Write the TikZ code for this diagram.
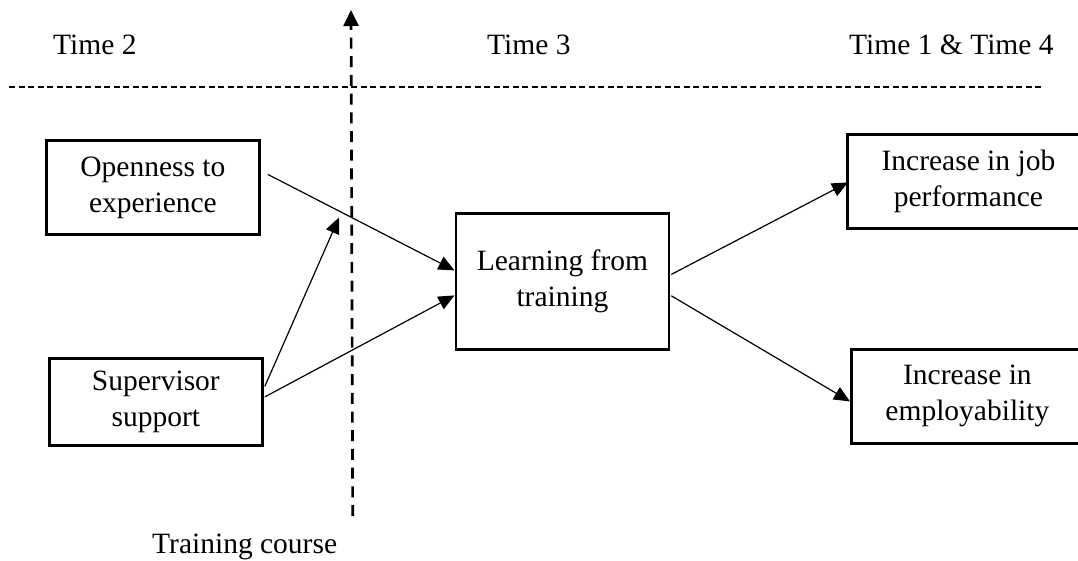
\documentclass[tikz,border=0pt]{standalone}
\usepackage{fontspec}
\setmainfont{Liberation Serif}
\usetikzlibrary{arrows.meta,calc}
\begin{document}
\begin{tikzpicture}[x=1pt,y=-1pt,
  every node/.style={font=\fontsize{29.5}{36}\selectfont},
  box/.style={draw,line width=2.8pt,inner sep=0pt,align=center,anchor=north west},
  link/.style={line width=1.2pt,-{Triangle[length=16pt,width=14pt]}},
  lbl/.style={anchor=base west,inner sep=0pt}]
\useasboundingbox (0,0) rectangle (1078,560);
% boxes
\node[box,minimum width=213pt,minimum height=94pt] (open) at (45,139) {Openness to\\experience};
\node[box,minimum width=213pt,minimum height=87pt] (sup) at (48,357) {Supervisor\\support};
\node[box,minimum width=213pt,minimum height=136pt] (learn) at (454.5,212) {Learning from\\training};
\node[box,minimum width=242pt,minimum height=94pt] (job) at (846,133) {Increase in job\\performance};
\node[box,minimum width=232pt,minimum height=94pt] (emp) at (850,348) {Increase in\\employability};
% labels
\node[lbl] (t2) at (53,54) {Time 2};
\node[lbl] (t3) at (487,54) {Time 3};
\node[lbl] (t14) at (849,54) {Time 1 \& Time 4};
\node[lbl] (tc) at (152,553) {Training course};
% dashed lines
\coordinate (hl) at (9,87);
\coordinate (hr) at (1041,87);
\draw[line width=1.3pt,dash pattern=on 6pt off 3.5pt] (hl) -- (hr);
\coordinate (vb) at (352.7,516);
\coordinate (vt) at (351,10);
\draw[line width=2.7pt,dash pattern=on 11pt off 7.7pt,-{Triangle[length=16pt,width=15pt]}] (vb) -- (vt);
% connectors
\coordinate (mod) at (339,217.5);
\draw[link] ($(open.east)+(7,-13)$) -- ($(learn.west)+(0,-11)$);
\draw[link] ($(sup.east)+(1,-5)$) -- ($(learn.west)+(0,14)$);
\draw[link] ($(sup.east)+(1,-15.5)$) -- (mod);
\draw[link] ($(learn.east)+(1,-7)$) -- ($(job.west)+(2,1)$);
\draw[link] ($(learn.east)+(1,14.4)$) -- ($(emp.west)+(0,5)$);
\end{tikzpicture}
\end{document}
